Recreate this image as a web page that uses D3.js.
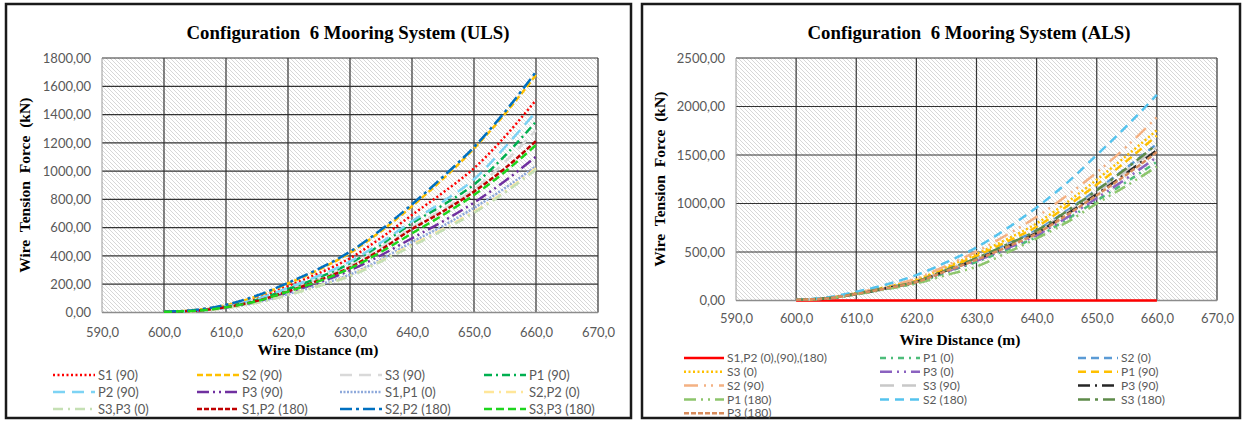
<!DOCTYPE html>
<html>
<head>
<meta charset="utf-8">
<script src="https://cdn.jsdelivr.net/npm/d3@7"></script>
<style>
body { margin: 0; background: #fff; }
.tick-label, .legend-text { font-family: Lato, "Liberation Sans", sans-serif; fill: #595959; }
.chart-title, .axis-title { font-family: "Liberation Serif", "Times New Roman", serif; font-weight: bold; fill: #000; }
</style>
</head>
<body>
<svg id="chart" width="1244" height="421"></svg>
<script>
// wire distance (m), shared by every series
var distance = [600, 605, 610, 615, 620, 625, 630, 635, 640, 645, 650, 655, 660];

var xTicks = [590, 600, 610, 620, 630, 640, 650, 660, 670];
var ulsTicks = [0, 200, 400, 600, 800, 1000, 1200, 1400, 1600, 1800];
var alsTicks = [0, 500, 1000, 1500, 2000, 2500];

// ULS tension (kN)
var ulsNames = ["S1 (90)", "S2 (90)", "S3 (90)", "P1 (90)",
                "P2 (90)", "P3 (90)", "S1,P1 (0)", "S2,P2 (0)",
                "S3,P3 (0)", "S1,P2 (180)", "S2,P2 (180)", "S3,P3 (180)"];
var uls_S1_90   = [5, 15, 45, 100, 188, 278, 384, 528, 690, 848, 1020, 1245, 1502];
var uls_S2_90   = [5, 17, 52, 115, 205, 303, 422, 575, 752, 945, 1160, 1405, 1680];
var uls_S3_90   = [5, 13, 40, 87, 158, 238, 332, 460, 600, 730, 870, 1065, 1290];
var uls_P1_90   = [5, 13, 41, 90, 165, 248, 348, 480, 631, 760, 905, 1110, 1350];
var uls_P2_90   = [5, 14, 43, 95, 175, 260, 360, 495, 645, 785, 942, 1170, 1420];
var uls_P3_90   = [5, 12, 35, 77, 140, 212, 298, 405, 525, 645, 777, 930, 1102];
var uls_S1P1_0  = [5, 11, 33, 72, 130, 195, 268, 375, 498, 612, 740, 880, 1035];
var uls_S2P2_0  = [5, 11, 32, 70, 125, 190, 260, 365, 480, 590, 713, 855, 1020];
var uls_S3P3_0  = [5, 11, 32, 69, 122, 187, 256, 360, 470, 582, 705, 848, 1010];
var uls_S1P2_180 = [5, 12, 38, 82, 150, 228, 320, 445, 590, 715, 855, 1020, 1213];
var uls_S2P2_180 = [5, 18, 55, 120, 210, 310, 430, 585, 765, 960, 1170, 1420, 1703];
var uls_S3P3_180 = [5, 12, 37, 81, 148, 222, 312, 428, 560, 690, 831, 995, 1185];

// ALS tension (kN)
var alsNames = ["S1,P2 (0),(90),(180)", "P1 (0)", "S2 (0)",
                "S3 (0)", "P3 (0)", "P1 (90)",
                "S2 (90)", "S3 (90)", "P3 (90)",
                "P1 (180)", "S2 (180)", "S3 (180)",
                "P3 (180)"];
var als_S1P2_all = [0, 0, 0, 0, 0, 0, 0, 0, 0, 0, 0, 0, 0];
var als_P1_0    = [8, 20, 65, 120, 182, 290, 398, 522, 655, 835, 1030, 1225, 1430];
var als_S2_0    = [8, 22, 70, 130, 198, 318, 440, 580, 725, 925, 1140, 1370, 1615];
var als_S3_0    = [8, 24, 75, 140, 215, 345, 480, 630, 795, 1010, 1245, 1495, 1755];
var als_P3_0    = [8, 21, 66, 122, 186, 297, 408, 535, 672, 855, 1055, 1260, 1480];
var als_P1_90   = [8, 23, 72, 135, 205, 330, 460, 605, 760, 970, 1195, 1440, 1700];
var als_S2_90   = [8, 25, 78, 145, 225, 360, 505, 675, 862, 1080, 1320, 1590, 1890];
var als_S3_90   = [8, 22, 69, 128, 194, 312, 430, 565, 708, 905, 1115, 1340, 1580];
var als_P3_90   = [8, 21, 68, 126, 192, 308, 424, 556, 698, 890, 1095, 1315, 1550];
var als_P1_180  = [8, 20, 64, 116, 177, 262, 350, 490, 640, 805, 1000, 1185, 1380];
var als_S2_180  = [10, 30, 90, 165, 262, 395, 547, 740, 960, 1210, 1500, 1800, 2120];
var als_S3_180  = [8, 22, 70, 130, 196, 316, 437, 575, 720, 920, 1135, 1365, 1610];
var als_P3_180  = [8, 21, 68, 125, 190, 305, 420, 550, 690, 880, 1085, 1300, 1530];

var ulsValues = [uls_S1_90, uls_S2_90, uls_S3_90, uls_P1_90, uls_P2_90, uls_P3_90,
                 uls_S1P1_0, uls_S2P2_0, uls_S3P3_0, uls_S1P2_180, uls_S2P2_180, uls_S3P3_180];
var alsValues = [als_S1P2_all, als_P1_0, als_S2_0, als_S3_0, als_P3_0, als_P1_90,
                 als_S2_90, als_S3_90, als_P3_90, als_P1_180, als_S2_180, als_S3_180, als_P3_180];

// line styles, same order as the names
var ulsStyles = [
  {c: "#ff0000", d: "2,2.5"},
  {c: "#ffc000", d: "6,3"},
  {c: "#d9d9d9", d: "12,7"},
  {c: "#00b050", d: "8,4,2,4"},
  {c: "#7dd3f4", d: "12,7"},
  {c: "#7030a0", d: "12,4,2,4,2,4"},
  {c: "#8ea9db", d: "2,1.5"},
  {c: "#ffe699", d: "10,5,2,5"},
  {c: "#c5e0b4", d: "10,5,2,5"},
  {c: "#c00000", d: "5,2"},
  {c: "#0070c0", d: "12,4,3,4"},
  {c: "#1ed51e", d: "8,4"}
];
var alsStyles = [
  {c: "#ff0000", d: null},
  {c: "#4dbd7a", d: "6,5,2,5"},
  {c: "#5b9bd5", d: "8,5"},
  {c: "#ffc000", d: "2,2.5"},
  {c: "#8b62c0", d: "12,5,2,5,2,5"},
  {c: "#ffc000", d: "8,5"},
  {c: "#f4b183", d: "14,6,2,5,2,6"},
  {c: "#c8c8c8", d: "14,8"},
  {c: "#262626", d: "12,5,2,5"},
  {c: "#8dc56c", d: "12,5,2,5,2,5"},
  {c: "#55c3ee", d: "9,6"},
  {c: "#5e8b4a", d: "12,5,3,5"},
  {c: "#d88c5c", d: "5,2"}
];

var svg = d3.select("#chart");
var fmtY = function(v) { return d3.format(".2f")(v).replace(".", ","); };
var fmtX = function(v) { return d3.format(".1f")(v).replace(".", ","); };

var defs = svg.append("defs");
var pat = defs.append("pattern")
    .attr("id", "hatch")
    .attr("patternUnits", "userSpaceOnUse")
    .attr("width", 4).attr("height", 4);
pat.append("rect").attr("width", 4).attr("height", 4).attr("fill", "#fff");
pat.append("path")
    .attr("d", "M0,0L4,4M-1,3L1,5M3,-1L5,1")
    .attr("stroke", "#d2d2d2").attr("stroke-width", 0.9);

function drawChart(cfg) {
  var g = svg.append("g");

  g.append("rect")
      .attr("x", cfg.frame[0]).attr("y", cfg.frame[1])
      .attr("width", cfg.frame[2]).attr("height", cfg.frame[3])
      .attr("fill", "#fff").attr("stroke", "#1a1a1a").attr("stroke-width", 2.5);

  var x = d3.scaleLinear().domain([590, 670]).range([cfg.plot[0], cfg.plot[2]]);
  var y = d3.scaleLinear().domain([0, cfg.yTicks[cfg.yTicks.length - 1]]).range([cfg.plot[3], cfg.plot[1]]);

  g.append("rect")
      .attr("x", cfg.plot[0]).attr("y", cfg.plot[1])
      .attr("width", cfg.plot[2] - cfg.plot[0]).attr("height", cfg.plot[3] - cfg.plot[1])
      .attr("fill", "url(#hatch)");

  // grid
  g.selectAll(".vgrid").data(xTicks.slice(1)).enter().append("line")
      .attr("x1", function(d) { return x(d); }).attr("x2", function(d) { return x(d); })
      .attr("y1", cfg.plot[1]).attr("y2", cfg.plot[3])
      .attr("stroke", "#333").attr("stroke-width", 1.2);
  g.selectAll(".hgrid").data(cfg.yTicks.slice(1)).enter().append("line")
      .attr("x1", cfg.plot[0]).attr("x2", cfg.plot[2])
      .attr("y1", function(d) { return y(d); }).attr("y2", function(d) { return y(d); })
      .attr("stroke", "#333").attr("stroke-width", 1.2);
  g.append("line")
      .attr("x1", cfg.plot[0]).attr("x2", cfg.plot[0])
      .attr("y1", cfg.plot[1]).attr("y2", cfg.plot[3])
      .attr("stroke", "#9a9a9a").attr("stroke-width", 1);
  g.append("line")
      .attr("x1", cfg.plot[0]).attr("x2", cfg.plot[2])
      .attr("y1", cfg.plot[3]).attr("y2", cfg.plot[3])
      .attr("stroke", "#8c8c8c").attr("stroke-width", 1.5);

  // axes
  var xAxis = g.append("g")
      .attr("transform", "translate(0," + (cfg.plot[3] + cfg.xLabelGap) + ")")
      .call(d3.axisBottom(x).tickValues(xTicks).tickFormat(fmtX).tickSize(0));
  xAxis.select(".domain").remove();
  xAxis.selectAll("text").attr("class", "tick-label").attr("font-size", 13).attr("dy", "0.71em");

  var yAxis = g.append("g")
      .attr("transform", "translate(" + (cfg.plot[0] - 11) + ",0)")
      .call(d3.axisLeft(y).tickValues(cfg.yTicks).tickFormat(fmtY).tickSize(0));
  yAxis.select(".domain").remove();
  yAxis.selectAll("text").attr("class", "tick-label").attr("font-size", 13).attr("x", 0);

  // series
  var line = d3.line()
      .x(function(d, i) { return x(distance[i]); })
      .y(function(d) { return y(d); })
      .curve(d3.curveMonotoneX);

  cfg.values.forEach(function(vals, i) {
    g.append("path")
        .datum(vals)
        .attr("d", line)
        .attr("fill", "none")
        .attr("stroke", cfg.styles[i].c)
        .attr("stroke-width", 2.5)
        .attr("stroke-dasharray", cfg.styles[i].d);
  });

  // titles
  g.append("text").attr("class", "chart-title")
      .attr("x", cfg.titleX).attr("y", 39)
      .attr("text-anchor", "middle").attr("font-size", 18.8)
      .style("white-space", "pre")
      .text(cfg.title);
  g.append("text").attr("class", "axis-title")
      .attr("x", cfg.xTitleX).attr("y", cfg.xTitleY)
      .attr("text-anchor", "middle").attr("font-size", 15.5)
      .text("Wire Distance (m)");
  g.append("text").attr("class", "axis-title")
      .attr("transform", "translate(" + cfg.yTitleX + "," + ((cfg.plot[1] + cfg.plot[3]) / 2) + ") rotate(-90)")
      .attr("text-anchor", "middle").attr("font-size", 15.5)
      .attr("word-spacing", 4)
      .text("Wire Tension Force (kN)");

  // legend
  var leg = g.selectAll(".legend")
      .data(cfg.names)
      .enter().append("g")
      .attr("transform", function(d, i) {
        var col = i % cfg.legCols.length, row = Math.floor(i / cfg.legCols.length);
        return "translate(" + cfg.legCols[col] + "," + (cfg.legTop + row * cfg.legRow) + ")";
      });
  leg.append("line")
      .attr("x1", 0).attr("x2", cfg.legLine)
      .attr("stroke", function(d, i) { return cfg.styles[i].c; })
      .attr("stroke-width", 2.5)
      .attr("stroke-dasharray", function(d, i) { return cfg.styles[i].d; });
  leg.append("text").attr("class", "legend-text")
      .attr("x", cfg.legLine + 3).attr("dy", "0.35em")
      .attr("font-size", cfg.legFont)
      .text(function(d) { return d; });
}

drawChart({
  frame: [6, 4, 625, 414],
  plot: [102, 58, 598, 312.5],
  yTicks: ulsTicks,
  values: ulsValues, styles: ulsStyles, names: ulsNames,
  title: "Configuration  6 Mooring System (ULS)",
  titleX: 348, xTitleX: 318, xTitleY: 355, yTitleX: 30, xLabelGap: 12,
  legCols: [53, 197, 340, 484], legTop: 375, legRow: 17, legLine: 42, legFont: 13
});

drawChart({
  frame: [642, 4, 598, 414],
  plot: [736, 58, 1217, 300.5],
  yTicks: alsTicks,
  values: alsValues, styles: alsStyles, names: alsNames,
  title: "Configuration  6 Mooring System (ALS)",
  titleX: 969, xTitleX: 960, xTitleY: 345, yTitleX: 665, xLabelGap: 10,
  legCols: [684, 880, 1078], legTop: 358, legRow: 13.8, legLine: 40, legFont: 12
});
</script>
</body>
</html>
